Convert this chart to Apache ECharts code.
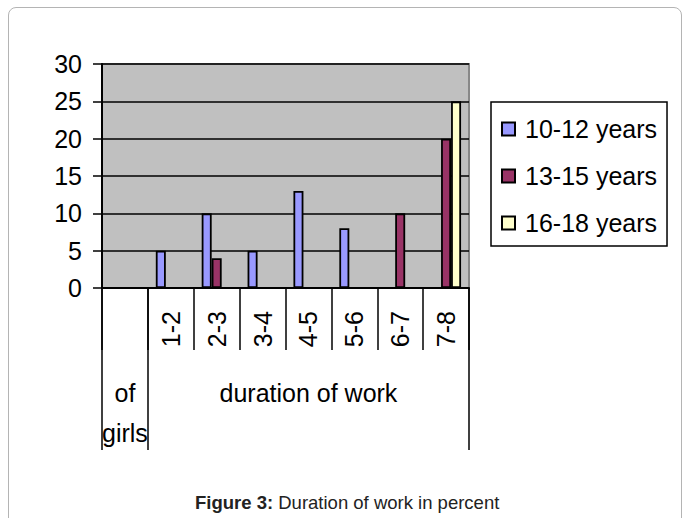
<!DOCTYPE html>
<html>
<head>
<meta charset="utf-8">
<script src="https://cdn.jsdelivr.net/npm/echarts@6/dist/echarts.min.js"></script>
<style>
  html, body { margin: 0; padding: 0; background: #fff; }
  #frame { position: absolute; left: 8px; top: 7px; width: 672px; height: 600px;
    border: 1.5px solid #b4b4b4; border-radius: 8px; }
  #chart { position: absolute; left: 0; top: 0; width: 683px; height: 518px; }
</style>
</head>
<body>
<div id="frame"></div>
<div id="chart"></div>
<script>
var categories = ['', '1-2', '2-3', '3-4', '4-5', '5-6', '6-7', '7-8'];
var age10to12 = [null, 5, 10, 5, 13, 8, null, null];
var age13to15 = [null, null, 4, null, null, null, 10, 20];
var age16to18 = [null, null, null, null, null, null, null, 25];
var seriesNames = ['10-12 years', '13-15 years', '16-18 years'];
var yTicks = [0, 5, 10, 15, 20, 25, 30];
// panel labels under the axis and their category boundaries
var groupLabels = ['of\ngirls', 'duration of work'];
var groupBounds = [0, 1, 8];

var font = "'Liberation Sans', Arial, sans-serif";
var colors = ['#9999ff', '#993366', '#ffffcc'];

var groupMids = [];
for (var i = 0; i < groupLabels.length; i++) {
  groupMids.push((groupBounds[i] + groupBounds[i + 1]) / 2);
}

var chart = echarts.init(document.getElementById('chart'), null, { renderer: 'svg' });

function bar(name, data, color) {
  return {
    name: name,
    type: 'bar',
    data: data,
    barWidth: 10,
    barGap: '0%',
    itemStyle: { color: color, borderColor: '#000', borderWidth: 1.8 }
  };
}

chart.setOption({
  animation: false,
  textStyle: { fontFamily: font },
  title: {
    text: '{b|Figure 3:} Duration of work in percent',
    left: 195,
    top: 493,
    padding: 0,
    textStyle: {
      fontFamily: font, fontSize: 18.5, fontWeight: 'normal', color: '#222',
      rich: { b: { fontFamily: font, fontSize: 18.5, fontWeight: 'bold', color: '#222' } }
    }
  },
  legend: {
    orient: 'vertical',
    left: 491,
    top: 102,
    padding: [13, 10, 9, 10],
    itemGap: 19,
    itemWidth: 13,
    itemHeight: 13,
    icon: 'rect',
    borderColor: '#000',
    borderWidth: 1.5,
    data: seriesNames,
    textStyle: { fontFamily: font, fontSize: 25, lineHeight: 28, color: '#000', padding: [0, 0, 0, 5] }
  },
  grid: {
    left: 102, right: 214, top: 64, bottom: 230,
    show: true,
    backgroundColor: '#c0c0c0',
    borderColor: '#888',
    borderWidth: 2,
    outerBoundsMode: 'none'
  },
  xAxis: [
    {
      type: 'category',
      data: categories,
      position: 'bottom',
      axisLine: { lineStyle: { color: '#000', width: 2 } },
      axisTick: { show: true, interval: 0, length: 62, lineStyle: { color: '#000', width: 1.5 } },
      axisLabel: { interval: 0, rotate: 90, margin: 23, fontSize: 25, color: '#000', fontFamily: font },
      splitLine: { show: false }
    },
    {
      type: 'value',
      position: 'bottom',
      min: groupBounds[0],
      max: groupBounds[groupBounds.length - 1],
      axisLine: { show: false },
      splitLine: { show: false },
      axisTick: { show: true, customValues: groupBounds, length: 162, lineStyle: { color: '#000', width: 1.5 } },
      axisLabel: {
        customValues: groupMids,
        margin: 85,
        fontSize: 25,
        lineHeight: 40,
        color: '#000',
        fontFamily: font,
        formatter: function(v) {
          return groupLabels[groupMids.indexOf(v)] || '';
        }
      }
    }
  ],
  yAxis: {
    type: 'value',
    min: yTicks[0],
    max: yTicks[yTicks.length - 1],
    interval: 5,
    axisLine: { show: true, lineStyle: { color: '#000', width: 2 } },
    axisTick: { show: true, length: 9, lineStyle: { color: '#000', width: 1.5 } },
    axisLabel: { margin: 20, fontSize: 25, color: '#000', fontFamily: font },
    splitLine: { show: true, lineStyle: { color: '#000', width: 1.5 } }
  },
  series: [
    bar(seriesNames[0], age10to12, colors[0]),
    bar(seriesNames[1], age13to15, colors[1]),
    bar(seriesNames[2], age16to18, colors[2])
  ]
});
window.addEventListener('resize', function() { chart.resize(); });
</script>
</body>
</html>
